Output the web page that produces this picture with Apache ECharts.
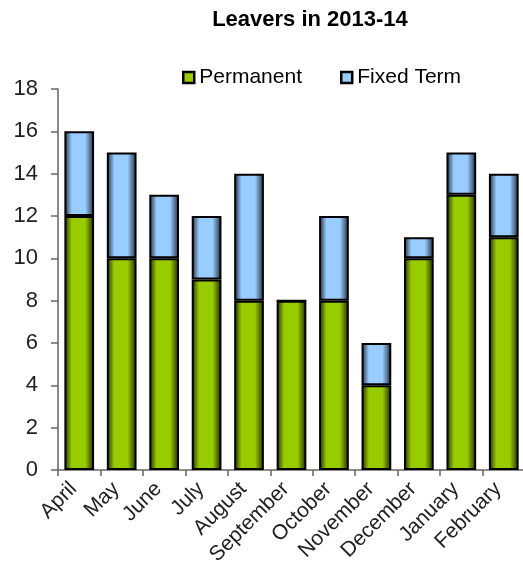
<!DOCTYPE html>
<html>
<head>
<meta charset="utf-8">
<script src="https://cdn.jsdelivr.net/npm/echarts@6/dist/echarts.min.js"></script>
<style>
  html, body { margin: 0; padding: 0; background: #fff; }
  #chart { width: 523px; height: 566px; }
</style>
</head>
<body>
<div id="chart"></div>
<script>
// months on the x axis
var months = ['April', 'May', 'June', 'July', 'August', 'September', 'October', 'November', 'December', 'January', 'February'];
// leavers per month
var permanent = [12, 10, 10, 9, 8, 8, 8, 4, 10, 13, 11];
var fixedTerm = [4, 5, 3, 3, 6, 0, 4, 2, 1, 2, 3];
var yTicks = [0, 2, 4, 6, 8, 10, 12, 14, 16, 18];

function barGradient(dark, light) {
  return new echarts.graphic.LinearGradient(0, 0, 1, 0, [
    { offset: 0, color: dark },
    { offset: 0.25, color: light },
    { offset: 0.7, color: light },
    { offset: 1, color: dark }
  ]);
}

var chart = echarts.init(document.getElementById('chart'));
var font = 'Liberation Sans, Arial, sans-serif';

var option = {
  backgroundColor: '#ffffff',
  animation: false,
  title: {
    text: 'Leavers in 2013-14',
    left: 305,
    textAlign: 'center',
    top: 4,
    textStyle: { fontFamily: font, fontSize: 22, fontWeight: 'bold', color: '#000' }
  },
  legend: {
    top: 62,
    left: 177,
    itemWidth: 11,
    itemHeight: 11,
    itemGap: 38,
    textStyle: { fontFamily: font, fontSize: 21, color: '#000' },
    data: [
      { name: 'Permanent', icon: 'rect', itemStyle: { color: '#99cc00', borderColor: '#000', borderWidth: 2.5 } },
      { name: 'Fixed Term', icon: 'rect', itemStyle: { color: '#99ccff', borderColor: '#000', borderWidth: 2.5 } }
    ]
  },
  grid: { left: 58, right: -2, top: 89, bottom: 96, containLabel: false, outerBoundsMode: 'none' },
  xAxis: {
    type: 'category',
    data: months,
    axisLine: { lineStyle: { color: '#666', width: 1.5 } },
    axisTick: { show: true, length: 6, alignWithLabel: false, lineStyle: { color: '#666', width: 1.5 } },
    axisLabel: { rotate: 45, fontFamily: font, fontSize: 21, color: '#222', margin: 10, padding: [0, 8, 0, 0], interval: 0 }
  },
  yAxis: {
    type: 'value',
    min: 0,
    max: 18,
    interval: 2,
    splitLine: { show: false },
    axisLine: { show: true, lineStyle: { color: '#666', width: 1.5 } },
    axisTick: { show: true, length: 7, lineStyle: { color: '#666', width: 1.5 } },
    axisLabel: {
      fontFamily: font, fontSize: 22, color: '#222', margin: 20,
      formatter: function (v) { return yTicks.indexOf(v) >= 0 ? String(v) : ''; }
    }
  },
  series: [
    {
      name: 'Permanent',
      type: 'bar',
      stack: 'leavers',
      barCategoryGap: '30%',
      data: permanent,
      itemStyle: { color: barGradient('#1e2800', '#99cc00'), borderColor: '#000', borderWidth: 2 }
    },
    {
      name: 'Fixed Term',
      type: 'bar',
      stack: 'leavers',
      barCategoryGap: '30%',
      data: fixedTerm,
      itemStyle: { color: barGradient('#1c2a38', '#99ccff'), borderColor: '#000', borderWidth: 2 }
    }
  ]
};

chart.setOption(option);
</script>
</body>
</html>
